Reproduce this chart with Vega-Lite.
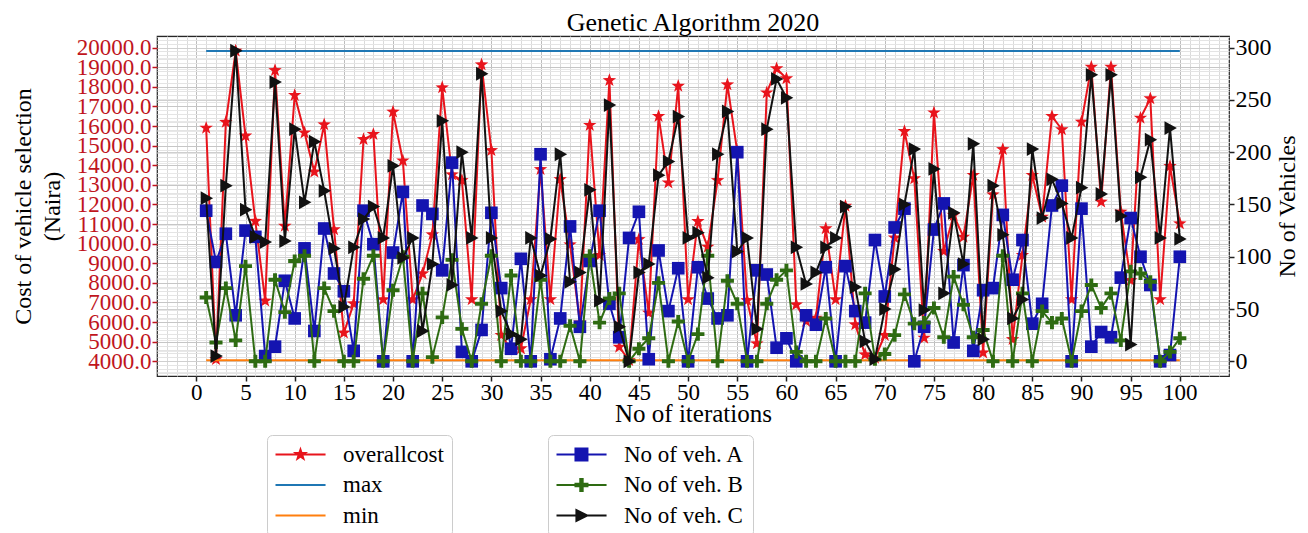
{
  "$schema": "https://vega.github.io/schema/vega-lite/v6.json",
  "width": 1072,
  "height": 340,
  "autosize": "none",
  "padding": {"left": 157, "top": 36, "right": 79, "bottom": 157},
  "background": "white",
  "title": {"text": "Genetic Algorithm 2020", "font": "Liberation Serif", "fontSize": 26, "fontWeight": "normal", "color": "black", "anchor": "middle", "offset": -11},
  "config": {
    "view": {"stroke": "#262626", "strokeWidth": 1.2},
    "font": "Liberation Serif"
  },
  "data": {"values": [
    {"i":1,"cost":15900,"A":144,"B":61,"C":156},
    {"i":2,"cost":4100,"A":95,"B":18,"C":5},
    {"i":3,"cost":16200,"A":122,"B":70,"C":168},
    {"i":4,"cost":19830,"A":44,"B":20,"C":297},
    {"i":5,"cost":15500,"A":125,"B":91,"C":145},
    {"i":6,"cost":11150,"A":119,"B":0,"C":119},
    {"i":7,"cost":7080,"A":5,"B":0,"C":114},
    {"i":8,"cost":18840,"A":14,"B":78,"C":267},
    {"i":9,"cost":10900,"A":77,"B":47,"C":115},
    {"i":10,"cost":17570,"A":41,"B":96,"C":222},
    {"i":11,"cost":15660,"A":108,"B":101,"C":152},
    {"i":12,"cost":13660,"A":29,"B":0,"C":210},
    {"i":13,"cost":16070,"A":127,"B":70,"C":163},
    {"i":14,"cost":10720,"A":84,"B":48,"C":108},
    {"i":15,"cost":5450,"A":67,"B":0,"C":52},
    {"i":16,"cost":6940,"A":10,"B":0,"C":109},
    {"i":17,"cost":15320,"A":144,"B":79,"C":136},
    {"i":18,"cost":15580,"A":112,"B":101,"C":148},
    {"i":19,"cost":7150,"A":0,"B":0,"C":118},
    {"i":20,"cost":16720,"A":104,"B":68,"C":187},
    {"i":21,"cost":14230,"A":162,"B":100,"C":99},
    {"i":22,"cost":7150,"A":0,"B":0,"C":118},
    {"i":23,"cost":8470,"A":149,"B":65,"C":29},
    {"i":24,"cost":10460,"A":141,"B":4,"C":93},
    {"i":25,"cost":17960,"A":87,"B":42,"C":230},
    {"i":26,"cost":13520,"A":190,"B":97,"C":73},
    {"i":27,"cost":13230,"A":9,"B":31,"C":200},
    {"i":28,"cost":7150,"A":0,"B":0,"C":118},
    {"i":29,"cost":19130,"A":30,"B":55,"C":275},
    {"i":30,"cost":14760,"A":142,"B":101,"C":118},
    {"i":31,"cost":5330,"A":70,"B":0,"C":48},
    {"i":32,"cost":4610,"A":12,"B":82,"C":26},
    {"i":33,"cost":4650,"A":98,"B":0,"C":21},
    {"i":34,"cost":7150,"A":0,"B":0,"C":118},
    {"i":35,"cost":13790,"A":198,"B":78,"C":82},
    {"i":36,"cost":7150,"A":2,"B":0,"C":117},
    {"i":37,"cost":13280,"A":41,"B":0,"C":198},
    {"i":38,"cost":9950,"A":129,"B":34,"C":76},
    {"i":39,"cost":5970,"A":33,"B":0,"C":85},
    {"i":40,"cost":16040,"A":96,"B":101,"C":164},
    {"i":41,"cost":9410,"A":144,"B":37,"C":58},
    {"i":42,"cost":18330,"A":55,"B":60,"C":245},
    {"i":43,"cost":4730,"A":23,"B":65,"C":33},
    {"i":44,"cost":4050,"A":118,"B":0,"C":0},
    {"i":45,"cost":10220,"A":143,"B":12,"C":85},
    {"i":46,"cost":6470,"A":2,"B":22,"C":93},
    {"i":47,"cost":16500,"A":106,"B":75,"C":178},
    {"i":48,"cost":13110,"A":48,"B":0,"C":191},
    {"i":49,"cost":18040,"A":89,"B":38,"C":234},
    {"i":50,"cost":7150,"A":0,"B":0,"C":118},
    {"i":51,"cost":11140,"A":90,"B":26,"C":123},
    {"i":52,"cost":9830,"A":60,"B":101,"C":80},
    {"i":53,"cost":13230,"A":41,"B":0,"C":198},
    {"i":54,"cost":18110,"A":44,"B":77,"C":239},
    {"i":55,"cost":14700,"A":200,"B":55,"C":105},
    {"i":56,"cost":7110,"A":0,"B":0,"C":118},
    {"i":57,"cost":4900,"A":87,"B":0,"C":31},
    {"i":58,"cost":17700,"A":83,"B":55,"C":222},
    {"i":59,"cost":18930,"A":13,"B":78,"C":270},
    {"i":60,"cost":18420,"A":22,"B":87,"C":252},
    {"i":61,"cost":6890,"A":0,"B":9,"C":109},
    {"i":62,"cost":6040,"A":44,"B":0,"C":74},
    {"i":63,"cost":6210,"A":35,"B":0,"C":85},
    {"i":64,"cost":10770,"A":90,"B":41,"C":109},
    {"i":65,"cost":7150,"A":0,"B":0,"C":118},
    {"i":66,"cost":11920,"A":91,"B":0,"C":148},
    {"i":67,"cost":5870,"A":48,"B":0,"C":71},
    {"i":68,"cost":4340,"A":37,"B":65,"C":19},
    {"i":69,"cost":4170,"A":116,"B":2,"C":2},
    {"i":70,"cost":5330,"A":62,"B":7,"C":50},
    {"i":71,"cost":10300,"A":128,"B":25,"C":88},
    {"i":72,"cost":15730,"A":146,"B":64,"C":150},
    {"i":73,"cost":13320,"A":0,"B":36,"C":203},
    {"i":74,"cost":5190,"A":33,"B":37,"C":49},
    {"i":75,"cost":16680,"A":126,"B":51,"C":184},
    {"i":76,"cost":9610,"A":151,"B":23,"C":65},
    {"i":77,"cost":11450,"A":18,"B":81,"C":142},
    {"i":78,"cost":10340,"A":92,"B":54,"C":93},
    {"i":79,"cost":13490,"A":10,"B":23,"C":208},
    {"i":80,"cost":4440,"A":68,"B":30,"C":21},
    {"i":81,"cost":12500,"A":70,"B":0,"C":168},
    {"i":82,"cost":14810,"A":140,"B":101,"C":121},
    {"i":83,"cost":5120,"A":78,"B":0,"C":41},
    {"i":84,"cost":9410,"A":116,"B":65,"C":59},
    {"i":85,"cost":13490,"A":36,"B":0,"C":203},
    {"i":86,"cost":11360,"A":55,"B":48,"C":137},
    {"i":87,"cost":16500,"A":149,"B":37,"C":174},
    {"i":88,"cost":15820,"A":168,"B":41,"C":151},
    {"i":89,"cost":7150,"A":0,"B":0,"C":118},
    {"i":90,"cost":16210,"A":146,"B":48,"C":166},
    {"i":91,"cost":19010,"A":14,"B":73,"C":274},
    {"i":92,"cost":12130,"A":28,"B":51,"C":160},
    {"i":93,"cost":19010,"A":23,"B":65,"C":274},
    {"i":94,"cost":11620,"A":80,"B":20,"C":139},
    {"i":95,"cost":8130,"A":137,"B":86,"C":16},
    {"i":96,"cost":16410,"A":100,"B":84,"C":176},
    {"i":97,"cost":17400,"A":73,"B":76,"C":212},
    {"i":98,"cost":7150,"A":0,"B":0,"C":118},
    {"i":99,"cost":13950,"A":6,"B":9,"C":223},
    {"i":100,"cost":11020,"A":100,"B":22,"C":117}
  ]},
  "encoding": {
    "x": {
      "field": "i", "type": "quantitative",
      "scale": {"domain": [-4, 105], "nice": false, "zero": false},
      "axis": {
        "title": "No of iterations", "titleFont": "Liberation Serif", "titleFontSize": 25, "titleFontWeight": "normal", "titleColor": "black", "titlePadding": -3,
        "values": [-3,-2,-1,0,1,2,3,4,5,6,7,8,9,10,11,12,13,14,15,16,17,18,19,20,21,22,23,24,25,26,27,28,29,30,31,32,33,34,35,36,37,38,39,40,41,42,43,44,45,46,47,48,49,50,51,52,53,54,55,56,57,58,59,60,61,62,63,64,65,66,67,68,69,70,71,72,73,74,75,76,77,78,79,80,81,82,83,84,85,86,87,88,89,90,91,92,93,94,95,96,97,98,99,100,101,102,103,104],
        "labelExpr": "datum.value % 5 === 0 && datum.value >= 0 && datum.value <= 100 ? datum.label : ''",
        "labelFont": "Liberation Serif", "labelFontSize": 23, "labelColor": "black", "labelPadding": 0, "labelOverlap": false, "labelBound": false, "labelFlush": false,
        "tickSize": 5, "tickWidth": 1.5, "tickColor": "#222222",
        "tickOpacity": {"condition": {"test": "datum.value % 5 === 0 && datum.value >= 0 && datum.value <= 100", "value": 1}, "value": 0},
        "grid": true, "gridWidth": 1,
        "gridColor": {"condition": {"test": "datum.value % 5 === 0", "value": "#bdbdbd"}, "value": "#dadada"},
        "domain": false
      }
    }
  },
  "layer": [
    {
      "encoding": {
        "y": {
          "field": "cost", "type": "quantitative",
          "scale": {"domain": [3250, 20590], "nice": false, "zero": false},
          "axis": {
            "title": ["Cost of vehicle selection", "(Naira)"], "titleFont": "Liberation Serif", "titleFontSize": 24, "titleFontWeight": "normal", "titleColor": "black", "titleLineHeight": 29, "titlePadding": 12,
            "tickCount": 90,
            "labelExpr": "datum.value % 1000 === 0 && datum.value >= 4000 && datum.value <= 20000 ? format(datum.value, '.1f') : ''",
            "labelFont": "Liberation Serif", "labelFontSize": 23, "labelColor": "#c0151d", "labelPadding": 1, "labelOverlap": false, "labelBound": false, "labelFlush": false,
            "tickSize": 5, "tickWidth": 1.5, "tickColor": "#c0151d",
            "tickOpacity": {"condition": {"test": "datum.value % 1000 === 0 && datum.value >= 4000 && datum.value <= 20000", "value": 1}, "value": 0},
            "grid": true, "gridWidth": 1,
            "gridColor": {"condition": {"test": "datum.value % 1000 === 0", "value": "#c6c6c6"}, "value": "#e4e4e4"},
            "domain": false
          }
        }
      },
      "layer": [
        {"mark": {"type": "line", "color": "#e8141c", "strokeWidth": 2}},
        {"mark": {"type": "point", "shape": "M0,-1L0.235,-0.324L0.951,-0.309L0.38,0.124L0.588,0.809L0,0.4L-0.588,0.809L-0.38,0.124L-0.951,-0.309L-0.235,-0.324Z", "filled": true, "color": "#e8141c", "size": 200, "opacity": 1}},
        {"mark": {"type": "line", "color": "#1f77b4", "strokeWidth": 2},
         "encoding": {"y": {"datum": 19830, "type": "quantitative", "axis": {"title": ["Cost of vehicle selection", "(Naira)"]}}}},
        {"mark": {"type": "line", "color": "#ff7f0e", "strokeWidth": 2},
         "encoding": {"y": {"datum": 4050, "type": "quantitative", "axis": {"title": ["Cost of vehicle selection", "(Naira)"]}}}},
        {
          "data": {"values": [{"s": "overallcost"}, {"s": "max"}, {"s": "min"}]},
          "mark": {"type": "point", "filled": true, "opacity": 1},
          "encoding": {
            "color": {"field": "s", "type": "nominal",
              "scale": {"domain": ["overallcost", "max", "min"], "range": ["#e8141c", "#1f77b4", "#ff7f0e"]},
              "legend": {"orient": "none", "legendX": 110, "legendY": 399, "title": null, "direction": "vertical", "symbolSize": 484, "symbolStrokeWidth": 0, "symbolOpacity": 1,
                "labelFont": "Liberation Serif", "labelFontSize": 23, "labelColor": "black", "labelOffset": 45, "labelLimit": 300, "rowPadding": 6.5, "padding": 8,
                "fillColor": "white", "strokeColor": "#cccccc", "cornerRadius": 5}},
            "shape": {"field": "s", "type": "nominal",
              "scale": {"domain": ["overallcost", "max", "min"], "range": [
                "M-1,-0.09H3.55V0.09H-1Z M1.27,-0.73L1.44,-0.235L1.964,-0.226L1.546,0.09L1.699,0.591L1.27,0.29L0.841,0.591L0.994,0.09L0.576,-0.226L1.1,-0.235Z",
                "M-1,-0.09H3.55V0.09H-1Z",
                "M-1,-0.09H3.55V0.09H-1Z"]}}
          }
        }
      ]
    },
    {
      "layer": [
        {"mark": {"type": "line", "color": "#1414b0", "strokeWidth": 2},
         "encoding": {"y": {
          "field": "A", "type": "quantitative",
          "scale": {"domain": [-14.05, 311.1], "nice": false, "zero": false},
          "axis": {
            "orient": "right", "title": "No of Vehicles", "titleFont": "Liberation Serif", "titleFontSize": 24, "titleFontWeight": "normal", "titleColor": "black", "titleAngle": 270, "titleBaseline": "top", "titlePadding": 4,
            "tickCount": 33,
            "labelExpr": "datum.value % 50 === 0 && datum.value >= 0 && datum.value <= 300 ? datum.label : ''",
            "labelFont": "Liberation Serif", "labelFontSize": 24, "labelColor": "black", "labelPadding": 1, "labelOverlap": false, "labelBound": false, "labelFlush": false,
            "tickSize": 5, "tickWidth": 1.5, "tickColor": "#222222",
            "tickOpacity": {"condition": {"test": "datum.value % 50 === 0 && datum.value >= 0 && datum.value <= 300", "value": 1}, "value": 0},
            "grid": true, "gridWidth": 1,
            "gridColor": {"condition": {"test": "datum.value % 50 === 0", "value": "#cfcfcf"}, "value": "#e8e8e8"},
            "domain": false
          }}}},
        {"mark": {"type": "point", "shape": "square", "filled": true, "color": "#1414b0", "size": 160, "opacity": 1},
         "encoding": {"y": {"field": "A", "type": "quantitative", "axis": {"title": "No of Vehicles"}}}},
        {"mark": {"type": "line", "color": "#2e6b12", "strokeWidth": 2},
         "encoding": {"y": {"field": "B", "type": "quantitative", "axis": {"title": "No of Vehicles"}}}},
        {"mark": {"type": "point", "shape": "M-0.3,-1H0.3V-0.3H1V0.3H0.3V1H-0.3V0.3H-1V-0.3H-0.3Z", "filled": true, "color": "#2e6b12", "size": 170, "opacity": 1},
         "encoding": {"y": {"field": "B", "type": "quantitative", "axis": {"title": "No of Vehicles"}}}},
        {"mark": {"type": "line", "color": "#111111", "strokeWidth": 2},
         "encoding": {"y": {"field": "C", "type": "quantitative", "axis": {"title": "No of Vehicles"}}}},
        {"mark": {"type": "point", "shape": "M-0.8,-1L1,0L-0.8,1Z", "filled": true, "color": "#111111", "size": 190, "opacity": 1},
         "encoding": {"y": {"field": "C", "type": "quantitative", "axis": {"title": "No of Vehicles"}}}},
        {
          "data": {"values": [{"v": "No of veh. A"}, {"v": "No of veh. B"}, {"v": "No of veh. C"}]},
          "mark": {"type": "point", "filled": true, "opacity": 1},
          "encoding": {
            "color": {"field": "v", "type": "nominal",
              "scale": {"domain": ["No of veh. A", "No of veh. B", "No of veh. C"], "range": ["#1414b0", "#2e6b12", "#111111"]},
              "legend": {"orient": "none", "legendX": 391, "legendY": 399, "title": null, "direction": "vertical", "symbolSize": 484, "symbolStrokeWidth": 0, "symbolOpacity": 1,
                "labelFont": "Liberation Serif", "labelFontSize": 23, "labelColor": "black", "labelOffset": 45, "labelLimit": 300, "rowPadding": 6.5, "padding": 8,
                "fillColor": "white", "strokeColor": "#cccccc", "cornerRadius": 5}},
            "shape": {"field": "v", "type": "nominal",
              "scale": {"domain": ["No of veh. A", "No of veh. B", "No of veh. C"], "range": [
                "M-1,-0.09H3.55V0.09H-1Z M0.634,-0.636H1.906V0.636H0.634Z",
                "M-1,-0.09H3.55V0.09H-1Z M1.07,-0.636H1.47V-0.2H1.906V0.2H1.47V0.636H1.07V0.2H0.634V-0.2H1.07Z",
                "M-1,-0.09H3.55V0.09H-1Z M0.72,-0.636L2.0,0L0.72,0.636Z"]}}
          }
        }
      ]
    }
  ],
  "resolve": {"scale": {"y": "independent", "color": "independent", "shape": "independent"}}
}
